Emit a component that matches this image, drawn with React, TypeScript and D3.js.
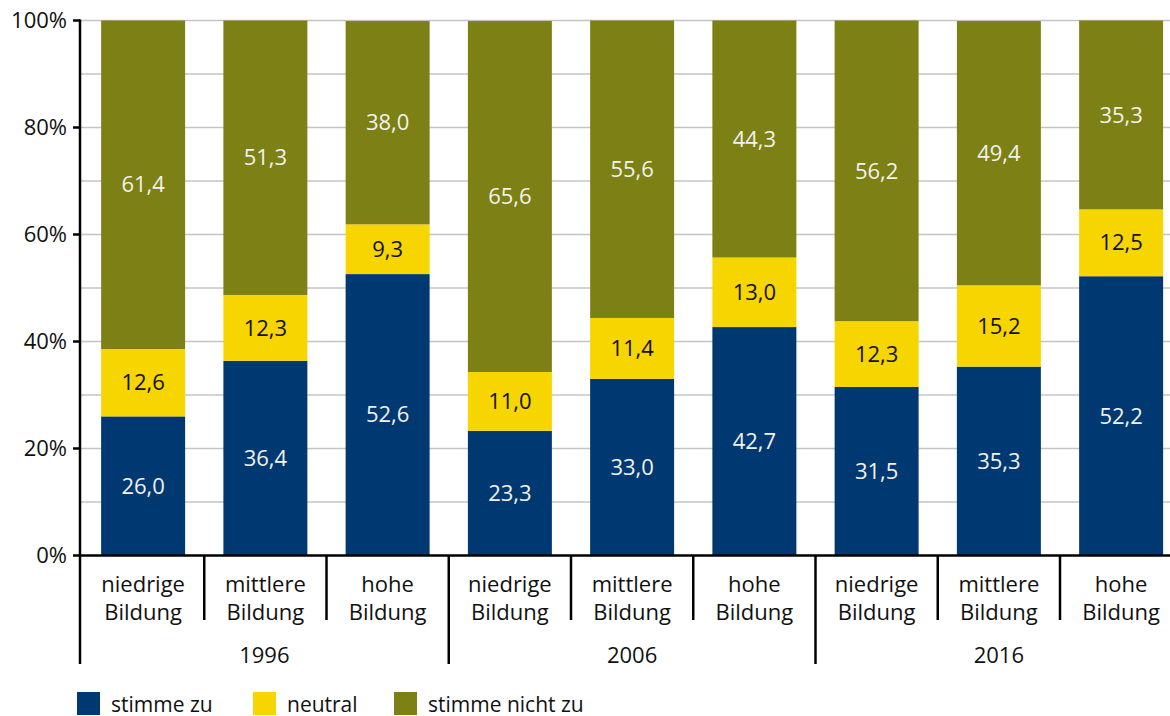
import React from "react";
import * as d3 from "d3";

const years = ["1996", "2006", "2016"];
const levels = ["niedrige Bildung", "mittlere Bildung", "hohe Bildung"];
const seriesNames = ["stimme zu", "neutral", "stimme nicht zu"];
const seriesColors = ["#003872", "#F7D500", "#7C8015"];
const labelColors = ["#F2F2EC", "#111111", "#F2F2EC"];

const stimmeZu = [26.0, 36.4, 52.6, 23.3, 33.0, 42.7, 31.5, 35.3, 52.2];
const neutral = [12.6, 12.3, 9.3, 11.0, 11.4, 13.0, 12.3, 15.2, 12.5];
const stimmeNichtZu = [61.4, 51.3, 38.0, 65.6, 55.6, 44.3, 56.2, 49.4, 35.3];

const yTicks = [0, 20, 40, 60, 80, 100];
const gridTicks = [10, 20, 30, 40, 50, 60, 70, 80, 90, 100];

const W = 1170;
const H = 716;
const FONT = "'Open Sans', sans-serif";

export default function App() {
  const keys = years.flatMap((y) => levels.map((l) => `${y}|${l}`));
  const rows = keys.map((k, i) => ({
    key: k,
    v0: stimmeZu[i],
    v1: neutral[i],
    v2: stimmeNichtZu[i],
  }));
  const stack = d3.stack<any>().keys(["v0", "v1", "v2"]);
  const stacked = stack(rows);

  const axisX = 80;
  const step = 122.25;
  const x = d3
    .scaleBand<string>()
    .domain(keys)
    .range([82, 82 + step * keys.length])
    .paddingInner(0.313)
    .paddingOuter(0.1565);
  const y = d3.scaleLinear().domain([0, 100]).range([555.5, 20.5]);

  const fmt = (v: number) => d3.format(".1f")(v).replace(".", ",");
  const boundary = (i: number) => (x(keys[i]) as number) - (x.step() * x.paddingInner()) / 2;

  return (
    <svg
      width={W}
      height={H}
      style={{ position: "absolute", left: 0, top: 0, background: "#fff" }}
      fontFamily={FONT}
    >
      {/* grid */}
      {gridTicks.map((t) => (
        <line key={t} x1={axisX} x2={W} y1={y(t)} y2={y(t)} stroke="#c4c4c4" strokeWidth={1.5} />
      ))}
      {/* bars */}
      {stacked.map((s, si) =>
        s.map((d, i) => (
          <rect
            key={`${si}-${i}`}
            x={x(keys[i])}
            width={x.bandwidth()}
            y={y(d[1])}
            height={y(d[0]) - y(d[1])}
            fill={seriesColors[si]}
          />
        ))
      )}
      {/* value labels */}
      {stacked.map((s, si) =>
        s.map((d, i) => (
          <text
            key={`l${si}-${i}`}
            x={(x(keys[i]) as number) + x.bandwidth() / 2}
            y={y((d[0] + d[1]) / 2)}
            dy="0.35em"
            textAnchor="middle"
            fontSize={22}
            fill={labelColors[si]}
          >
            {fmt(d[1] - d[0])}
          </text>
        ))
      )}
      {/* y axis */}
      <line x1={axisX} x2={axisX} y1={y(100) - 1} y2={664} stroke="#000" strokeWidth={2.5} />
      {yTicks.map((t) => (
        <g key={t}>
          <line x1={73} x2={axisX} y1={y(t)} y2={y(t)} stroke="#000" strokeWidth={2.5} />
          <text x={67} y={y(t)} dy="0.35em" textAnchor="end" fontSize={22} fill="#111">
            {t}%
          </text>
        </g>
      ))}
      {/* x axis */}
      <line x1={axisX} x2={W} y1={y(0)} y2={y(0)} stroke="#000" strokeWidth={2.5} />
      {keys.map((k, i) =>
        i === 0 ? null : (
          <line
            key={`sep${i}`}
            x1={boundary(i)}
            x2={boundary(i)}
            y1={y(0)}
            y2={i % 3 === 0 ? 664 : 620}
            stroke="#000"
            strokeWidth={2.5}
          />
        )
      )}
      {keys.map((k, i) => {
        const [a, b] = levels[i % 3].split(" ");
        const cx = (x(k) as number) + x.bandwidth() / 2;
        return (
          <text key={`c${i}`} x={cx} textAnchor="middle" fontSize={22} fill="#111">
            <tspan x={cx} y={592}>{a}</tspan>
            <tspan x={cx} y={620}>{b}</tspan>
          </text>
        );
      })}
      {years.map((yr, gi) => {
        const left = gi === 0 ? axisX : boundary(gi * 3);
        const right = boundary(gi * 3) + 3 * step;
        const cx = (left + right) / 2;
        return (
          <text key={yr} x={cx} y={663} textAnchor="middle" fontSize={22} fill="#111">
            {yr}
          </text>
        );
      })}
      {/* legend */}
      {seriesNames.map((n, i) => {
        const lx = [77, 253, 394][i];
        return (
          <g key={n}>
            <rect x={lx} y={692} width={23} height={23} fill={seriesColors[i]} />
            <text x={lx + 34} y={712} fontSize={21} fill="#111">
              {n}
            </text>
          </g>
        );
      })}
    </svg>
  );
}
